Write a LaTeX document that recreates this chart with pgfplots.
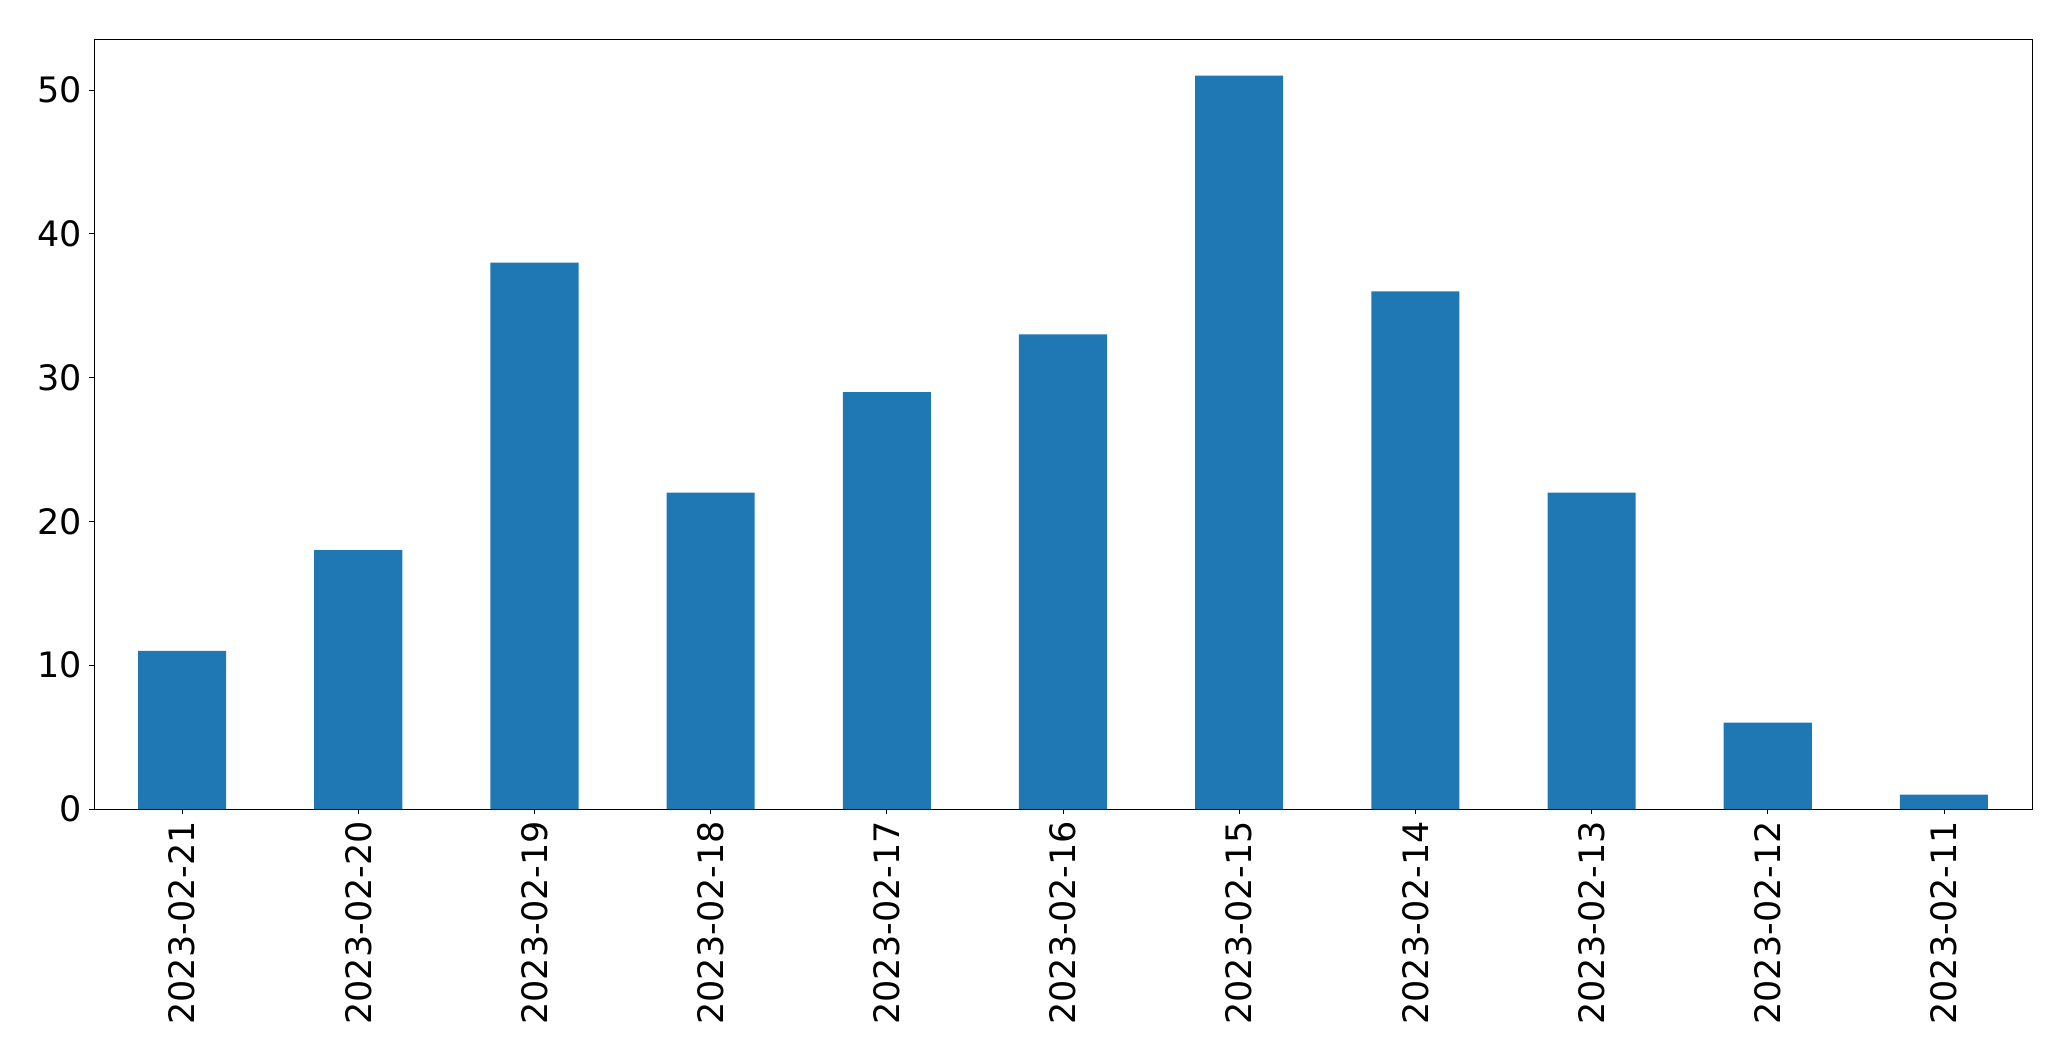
\documentclass[border=0pt]{standalone}
\usepackage{pgfplots}
\pgfplotsset{compat=1.18}
\usepackage{fontspec}
\setmainfont{DejaVu Sans}
\definecolor{mplblue}{HTML}{1F77B4}

\begin{document}
\begin{tikzpicture}
\useasboundingbox (-47pt,-126pt) rectangle (988.5pt,404.5pt);
\begin{axis}[
    scale only axis,
    width=969pt, height=385pt,
    xmin=-0.5, xmax=10.5,
    ymin=0, ymax=53.55,
    xtick=data,
    xticklabels={2023-02-21,2023-02-20,2023-02-19,2023-02-18,2023-02-17,2023-02-16,2023-02-15,2023-02-14,2023-02-13,2023-02-12,2023-02-11},
    ytick={0,10,20,30,40,50},
    tick align=outside,
    tick pos=left,
    major tick length=2.4pt,
    tick style={black, line width=0.4pt},
    axis line style={line width=0.4pt},
    ticklabel style={font=\fontsize{17.5}{21}\selectfont},
    /pgf/number format/assume math mode=true,
    xticklabel style={yshift=-3.5pt, rotate=90, anchor=east, inner sep=0pt},
    yticklabel style={inner sep=0pt, xshift=-3.5pt},
]
\addplot[ybar, bar width=0.5, fill=mplblue, draw=none] coordinates {
    (0,11) (1,18) (2,38) (3,22) (4,29) (5,33) (6,51) (7,36) (8,22) (9,6) (10,1)
};
\end{axis}
\end{tikzpicture}
\end{document}
